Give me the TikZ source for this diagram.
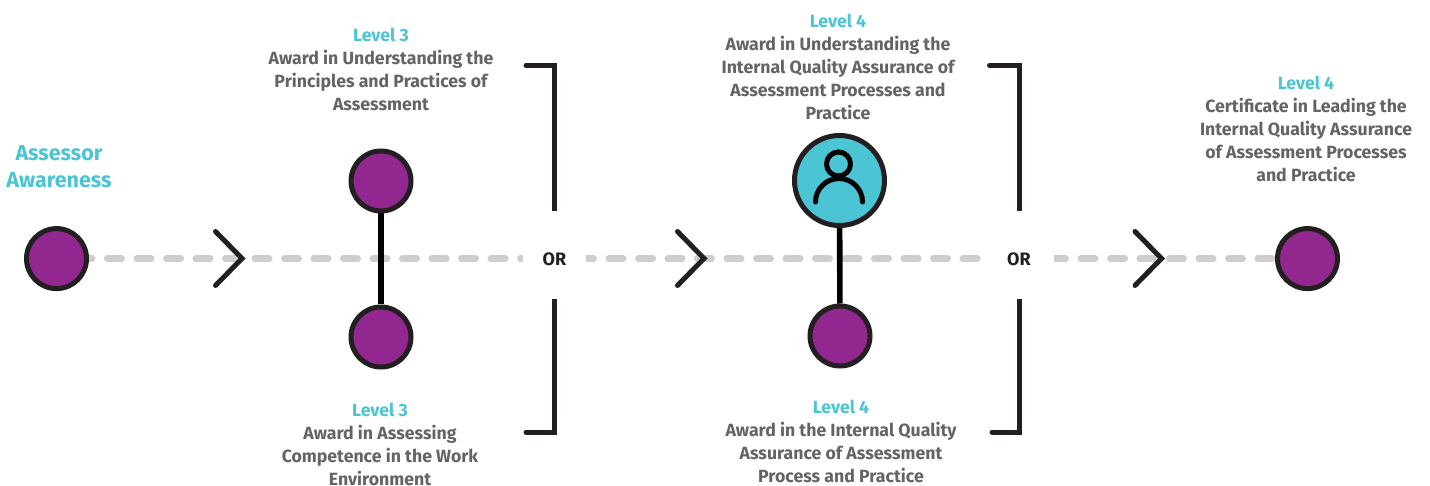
\documentclass[tikz,border=0pt]{standalone}
\usepackage{fontspec}
\setmainfont{Fira Sans}
\definecolor{purp}{HTML}{92278F}
\definecolor{teal1}{HTML}{4BC4D3}
\definecolor{ink}{HTML}{231F20}
\definecolor{greytxt}{HTML}{636466}
\definecolor{dashgrey}{HTML}{CFCDCD}
\tikzset{
 dot/.style={circle,draw=ink,line width=5pt,fill=purp,minimum size=60pt,inner sep=0pt},
 bigdot/.style={circle,draw=ink,line width=5pt,fill=teal1,minimum size=90pt,inner sep=0pt},
 stem/.style={line width=5.6pt,draw=black},
 bracketline/.style={line width=5pt,draw=ink,line cap=round,line join=miter},
 chevron/.style={line width=5pt,draw=ink,line cap=round,line join=miter},
 dashline/.style={line width=6.5pt,draw=dashgrey,line cap=round,dash pattern=on 14.5pt off 15pt,dash phase=8.75pt},
 ortext/.style={fill=white,text=ink,font=\fontsize{18}{20}\selectfont\bfseries,minimum width=63pt,minimum height=88pt,inner sep=0pt},
 body/.style={align=center,text=greytxt,inner sep=0pt,font=\fontsize{17.7}{23}\selectfont\bfseries},
 title/.style={align=center,text=teal1,inner sep=0pt,font=\fontsize{21.5}{27}\selectfont\bfseries},
}
\newcommand{\lv}[1]{\textcolor{teal1}{#1}}
\begin{document}
\begin{tikzpicture}[x=1pt,y=-1pt]
\useasboundingbox (0,0) rectangle (1430,486);
% named anchors
\coordinate (lineend) at (1307,258.6);
\coordinate (b1a) at (526,65.5); \coordinate (b1c) at (554.7,65.5); \coordinate (b1d) at (554.7,432); \coordinate (b1b) at (526,432);
\coordinate (b2a) at (989.5,65.5); \coordinate (b2c) at (1019.7,65.5); \coordinate (b2d) at (1019.7,432); \coordinate (b2b) at (992,432);
\coordinate (c1a) at (215.5,231.5); \coordinate (c1t) at (242,258.5); \coordinate (c1b) at (215.5,285.5);
\coordinate (c2a) at (677.5,231.5); \coordinate (c2t) at (704,258.5); \coordinate (c2b) at (677.5,285.5);
\coordinate (c3a) at (1135,231.5); \coordinate (c3t) at (1161.5,258.5); \coordinate (c3b) at (1135,285.5);
\coordinate (start) at (57,258.6);
% dashes
\draw[dashline] (start) -- (lineend);
% brackets
\draw[bracketline] (b1a) -- (b1c) -- (b1d) -- (b1b);
\draw[bracketline] (b2a) -- (b2c) -- (b2d) -- (b2b);
% OR
\node[ortext] (or1) at (554.5,255.5) {\raisebox{-9.7pt}[0pt][0pt]{OR}};
\node[ortext,minimum width=69pt] (or2) at (1019,255.5) {\raisebox{-9.7pt}[0pt][0pt]{OR}};
% chevrons
\draw[chevron] (c1a) -- (c1t) -- (c1b);
\draw[chevron] (c2a) -- (c2t) -- (c2b);
\draw[chevron] (c3a) -- (c3t) -- (c3b);
% circles
\node[dot] (n0) at (56.5,258.6) {};
\node[dot] (n1) at (381,181) {};
\node[dot] (n2) at (381,337) {};
\node[bigdot] (n3) at (839.5,180.5) {};
\node[dot] (n4) at (840,336) {};
\node[dot] (n5) at (1307.5,258.6) {};
\draw[stem] (n1) -- (n2);
\draw[stem] (n3) -- (n4);
% person
\draw[line width=5pt,draw=black] (838.5,164) circle (12pt);
\draw[line width=5pt,draw=black,line cap=round] (815.5,202) arc[start angle=180,end angle=0,radius=23.5pt];
% texts
\node[title] (t0) at (59,166.5) {Assessor\\Awareness};
\node[body,anchor=north] (t1) at (381,28) {\lv{Level 3}\\Award in Understanding the\\Principles and Practices of\\Assessment};
\node[body,anchor=north] (t2) at (380,403) {\lv{Level 3}\\Award in Assessing\\Competence in the Work\\Environment};
\node[body,anchor=north] (t3) at (838,14) {\lv{Level 4}\\Award in Understanding the\\Internal Quality Assurance of\\Assessment Processes and\\Practice};
\node[body,anchor=north] (t4) at (841,400) {\lv{Level 4}\\Award in the Internal Quality\\Assurance of Assessment\\Process and Practice};
\node[body,anchor=north] (t5) at (1306,76) {\lv{Level 4}\\Certificate in Leading the\\Internal Quality Assurance\\of Assessment Processes\\and Practice};
\end{tikzpicture}
\end{document}
